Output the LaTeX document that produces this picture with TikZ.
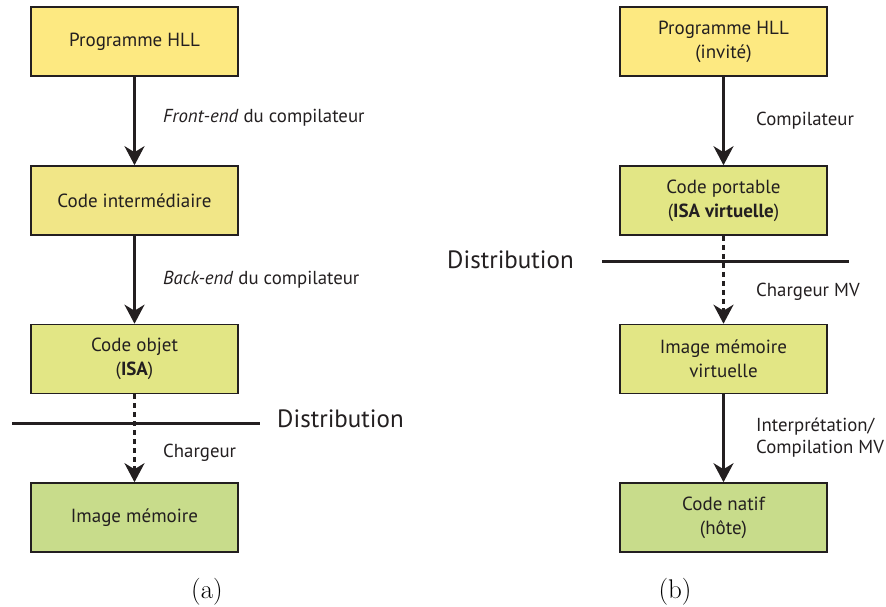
\documentclass[tikz,border=0pt]{standalone}
\usepackage{fontspec}
\newfontfamily\myr{PT Sans}
\usetikzlibrary{arrows.meta}
\definecolor{ink}{HTML}{231F20}
\definecolor{cA}{HTML}{FDE981}
\definecolor{cB}{HTML}{F1E687}
\definecolor{cC}{HTML}{E2E685}
\definecolor{cD}{HTML}{C8DC8B}
\begin{document}
\begin{tikzpicture}[x=1pt,y=-1pt,
  box/.style={draw=ink,line width=1.6pt,minimum width=207pt,minimum height=69pt,
    inner sep=0pt,align=center,font=\myr\fontsize{19}{24}\selectfont,text=ink},
  arr/.style={draw=ink,line width=2.7pt,-{Stealth[length=19pt,width=20pt,inset=6pt]}},
  darr/.style={arr,dash pattern=on 5pt off 4pt},
  lbl/.style={anchor=west,inner sep=0pt,align=left,font=\myr\fontsize{18.8}{22}\selectfont,text=ink},
  dist/.style={inner sep=0pt,font=\myr\fontsize{25}{30}\selectfont,text=ink},
  sep/.style={draw=ink,line width=3pt},
  subcap/.style={inner sep=0pt,font=\fontsize{27}{32}\selectfont}]
\useasboundingbox (0,0) rectangle (886,607);
% (a)
\node[box,fill=cA] (a1) at (134.5,41.5) {Programme HLL};
\node[box,fill=cB] (a2) at (134.5,200.5) {Code intermédiaire};
\node[box,fill=cC] (a3) at (134.5,359) {Code objet\\(\textbf{ISA})};
\node[box,fill=cD] (a4) at (134.5,517.5) {Image mémoire};
\draw[arr] (a1) -- (a2);
\draw[arr] (a2) -- (a3);
\draw[darr] (a3) -- (a4);
\coordinate (la1) at (12,423);
\coordinate (la2) at (260,423);
\draw[sep] (la1) -- (la2);
\node[dist,anchor=west] (da) at (277,419) {Distribution};
\node[lbl] (fa) at (163,118) {\textit{Front-end} du compilateur};
\node[lbl] (ba) at (163,280) {\textit{Back-end} du compilateur};
\node[lbl] (ca) at (163,453) {Chargeur};
\node[subcap] (capa) at (207,592) {(a)};
% (b)
\node[box,fill=cA] (b1) at (723.5,41.5) {Programme HLL\\(invité)};
\node[box,fill=cC] (b2) at (723.5,200.5) {Code portable\\(\textbf{ISA virtuelle})};
\node[box,fill=cC] (b3) at (723.5,359) {Image mémoire\\virtuelle};
\node[box,fill=cD] (b4) at (723.5,517.5) {Code natif\\(hôte)};
\draw[arr] (b1) -- (b2);
\draw[darr] (b2) -- (b3);
\draw[arr] (b3) -- (b4);
\coordinate (lb1) at (602,261);
\coordinate (lb2) at (849,261);
\draw[sep] (lb1) -- (lb2);
\node[dist,anchor=west] (db) at (447,260) {Distribution};
\node[lbl] (cb) at (756,121) {Compilateur};
\node[lbl] (mb) at (756,292) {Chargeur MV};
\node[lbl] (ib) at (756,438) {Interprétation/\\Compilation MV};
\node[subcap] (capb) at (675,592) {(b)};
\end{tikzpicture}
\end{document}
